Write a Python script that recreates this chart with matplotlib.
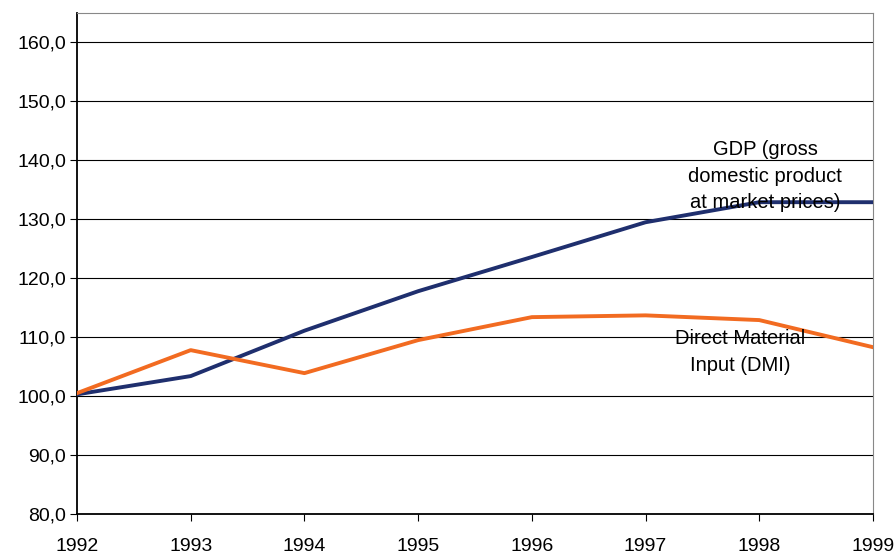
import numpy as np
import matplotlib
matplotlib.use("Agg")
import matplotlib.pyplot as plt

# index values, 1992 = 100
years = [1992, 1993, 1994, 1995, 1996, 1997, 1998, 1999]
gdp = [100.3, 103.4, 111.1, 117.8, 123.6, 129.5, 132.9, 132.9]
dmi = [100.5, 107.8, 103.9, 109.5, 113.4, 113.7, 112.9, 108.3]
yticks = [80, 90, 100, 110, 120, 130, 140, 150, 160]

plt.rcParams['font.family'] = ['Liberation Sans', 'DejaVu Sans']

fig = plt.figure(figsize=(8.96, 5.57), dpi=100)
ax = fig.add_axes([77/896, 1 - 514/557, (873-77)/896, (514-13)/557])

for y in yticks[1:]:
    ax.axhline(y, color='black', lw=0.8, zorder=1)

ax.plot(years, gdp, color='#1f2f6e', lw=2.8, zorder=3)
ax.plot(years, dmi, color='#f26b21', lw=2.8, zorder=3)

ax.set_xlim(1992, 1999)
ax.set_ylim(80, 165)
ax.set_yticks(yticks)
ax.set_yticklabels([f"{v:.1f}".replace('.', ',') for v in yticks])
ax.set_xticks(years)
ax.set_xticklabels([str(y) for y in years])
ax.tick_params(axis='both', labelsize=14, direction='out', length=5, color='black')
ax.tick_params(axis='x', pad=12)
ax.tick_params(axis='y', pad=3)

for s in ['top', 'right']:
    ax.spines[s].set_color('#888888')
    ax.spines[s].set_linewidth(0.8)
for s in ['left', 'bottom']:
    ax.spines[s].set_color('black')
    ax.spines[s].set_linewidth(1.3)

ax.text(1998.05, 137.3, "GDP (gross\ndomestic product\nat market prices)",
        ha='center', va='center', fontsize=14.5, linespacing=1.5, zorder=4)
ax.text(1997.83, 107.5, "Direct Material\nInput (DMI)",
        ha='center', va='center', fontsize=14.5, linespacing=1.5, zorder=4)

fig.savefig("out.png", dpi=100)
